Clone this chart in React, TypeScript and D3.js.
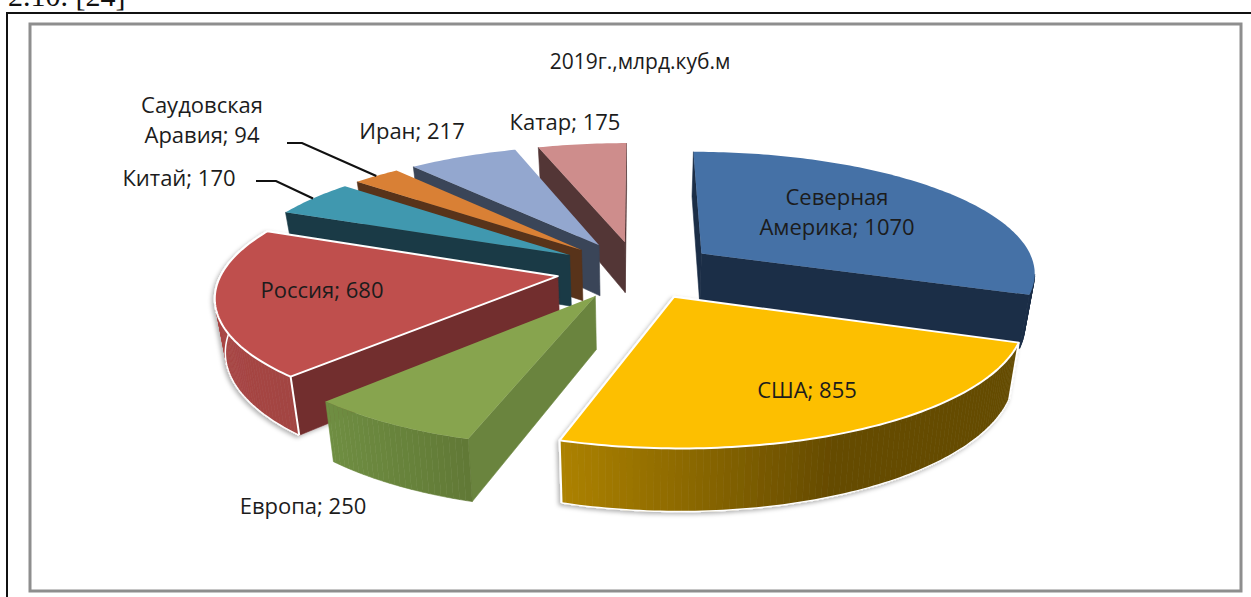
import React from 'react';
import * as d3 from 'd3';

// 2019, bcm
const categories = ['Северная Америка', 'США', 'Европа', 'Россия', 'Китай', 'Саудовская Аравия', 'Иран', 'Катар'];
const values = [1070, 855, 250, 680, 170, 94, 217, 175];

const topColors = ['#4571a6', '#fdbf00', '#87a44e', '#bf504d', '#4098af', '#d98035', '#93a7cf', '#ce8d8c'];
const cutColors = ['#1b2e47', '#654b00', '#6a843e', '#722d2d', '#1a3a46', '#58331a', '#3a4558', '#533636'];
const rimLight = ['#1b2e47', '#ad8200', '#6f8e42', '#a84644', '#1a3a46', '#58331a', '#3a4558', '#533636'];
const rimDark = ['#1b2e47', '#654b00', '#5f7634', '#984040', '#1a3a46', '#58331a', '#3a4558', '#533636'];
const outlined = [false, true, false, true, false, false, false, false];

const labelLines = [
  ['Северная', 'Америка; 1070'],
  ['США; 855'],
  ['Европа; 250'],
  ['Россия; 680'],
  ['Китай; 170'],
  ['Саудовская', 'Аравия; 94'],
  ['Иран; 217'],
  ['Катар; 175'],
];
const labelAt = [
  [837, 205],
  [807, 398],
  [303, 514],
  [322, 298],
  [179, 186],
  [202, 113],
  [412, 139],
  [565, 130],
];
const leaders = [null, null, null, null, [[256, 181], [276, 181]], [[287, 143], [302, 143]], null, null];

const W = 1251;
const H = 597;
const cx = 637;
const cy = 270;
const R = 335; // plane radius, px
const Q = 121; // foreshortened radius, px
const PERSP = 0.145;
const EXPLODE = 0.24;
const DEPTH = 52;
const CONVERGE = 0.025;

type Pt = [number, number];

// plane coords (u right, v toward viewer) to screen, top face
function project(u: number, v: number): Pt {
  const s = 1 / (1 - PERSP * v);
  return [cx + u * R * s, cy + v * Q * s];
}
function drop(u: number, v: number): Pt {
  const s = 1 / (1 - PERSP * v);
  const [x, y] = project(u, v);
  return [cx + (x - cx) * (1 - CONVERGE), y + DEPTH * s];
}

const line = d3.line<Pt>();
const deg = Math.PI / 180;

const arcs = d3.pie<number>().sort(null).startAngle(0).endAngle(2 * Math.PI)(values);

const slices = arcs.map((a) => {
  const i = a.index;
  const mid = (a.startAngle + a.endAngle) / 2;
  const ou = EXPLODE * Math.sin(mid);
  const ov = -EXPLODE * Math.cos(mid);
  const steps = d3.range(a.startAngle, a.endAngle, deg).concat(a.endAngle);
  const rim = steps.map((t) => [ou + Math.sin(t), ov - Math.cos(t)] as Pt);
  const loop: Pt[] = [[ou, ov], ...rim, [ou, ov]];
  return { i, mid, loop, rim };
});

const order = d3.range(slices.length).sort((a, b) => -Math.cos(slices[a].mid) + Math.cos(slices[b].mid));

function Slice({ index }: { index: number }) {
  const { i, loop } = slices[index];
  const topPts = loop.map((p) => project(p[0], p[1]));
  const xs = d3.extent(topPts, (p) => p[0]) as [number, number];
  const rimShade = d3
    .scaleLinear<string>()
    .domain([xs[0], xs[0] + (xs[1] - xs[0]) * 0.6])
    .range([rimLight[i], rimDark[i]])
    .clamp(true);
  const walls = [];
  for (let k = 0; k < loop.length - 1; k++) {
    const p = loop[k];
    const q = loop[k + 1];
    const a = project(p[0], p[1]);
    const b = project(q[0], q[1]);
    if (b[0] >= a[0]) continue; // faces away
    const isCut = k === 0 || k === loop.length - 2;
    const fill = isCut ? cutColors[i] : rimShade((a[0] + b[0]) / 2);
    walls.push(
      <path
        key={k}
        d={(line([a, b, drop(q[0], q[1]), drop(p[0], p[1])]) as string) + 'Z'}
        fill={fill}
        stroke={fill}
        strokeWidth={0.6}
      />
    );
  }
  const edge = outlined[i] ? '#ffffff' : 'none';
  const rimStart = loop[1];
  const rimEnd = loop[loop.length - 2];
  return (
    <g filter={outlined[i] ? 'url(#soft)' : undefined}>
      {walls}
      {outlined[i] && (
        <path
          d={line(loop.slice(1, -1).map((p) => drop(p[0], p[1]))) as string}
          fill="none"
          stroke="#ffffff"
          strokeWidth={1.5}
        />
      )}
      {outlined[i] &&
        [rimStart, rimEnd].map((p, k) => (
          <path
            key={k}
            d={line([project(p[0], p[1]), drop(p[0], p[1])]) as string}
            stroke={project(p[0], p[1])[1] > 300 ? '#ffffff' : 'none'}
            strokeWidth={2}
          />
        ))}
      <path d={(line(topPts) as string) + 'Z'} fill={topColors[i]} stroke={edge} strokeWidth={2} strokeLinejoin="round" />
    </g>
  );
}

export default function App() {
  return (
    <svg
      width={W}
      height={H}
      viewBox={`0 0 ${W} ${H}`}
      style={{ position: 'absolute', left: 0, top: 0, display: 'block', background: '#fff' }}
    >
      <defs>
        <filter id="soft" x="-10%" y="-10%" width="120%" height="120%">
          <feDropShadow dx={-2} dy={2} stdDeviation={2} floodColor="#000" floodOpacity={0.3} />
        </filter>
      </defs>
      <text x={8} y={6} fontFamily="'Liberation Serif', serif" fontSize={30} fill="#111">
        2.10. [24]
      </text>
      <path d={`M${W},13H7V${H}`} fill="none" stroke="#111" strokeWidth={2} />
      <path d={`M30,${591}V24H1241V${591}Z`} fill="none" stroke="#8e8e8e" strokeWidth={3} />

      <text x={640} y={69} textAnchor="middle" fontFamily="'Open Sans', sans-serif" fontSize={21} fill="#1c1c1c">
        2019г.,млрд.куб.м
      </text>

      {order.map((i) => (
        <Slice key={categories[i]} index={i} />
      ))}

      {slices.map((s) => {
        const from = leaders[s.i];
        if (!from) return null;
        const m = project(EXPLODE * Math.sin(s.mid) + Math.sin(s.mid), -EXPLODE * Math.cos(s.mid) - Math.cos(s.mid));
        return (
          <path
            key={s.i}
            d={line([...(from as Pt[]), m]) as string}
            fill="none"
            stroke="#111"
            strokeWidth={2.2}
          />
        );
      })}

      {labelLines.map((lines, i) => (
        <text
          key={i}
          textAnchor="middle"
          fontFamily="'Open Sans', sans-serif"
          fontSize={22}
          fill="#1c1c1c"
        >
          {lines.map((t, k) => (
            <tspan key={k} x={labelAt[i][0]} y={labelAt[i][1] + k * 30}>
              {t}
            </tspan>
          ))}
        </text>
      ))}
    </svg>
  );
}
